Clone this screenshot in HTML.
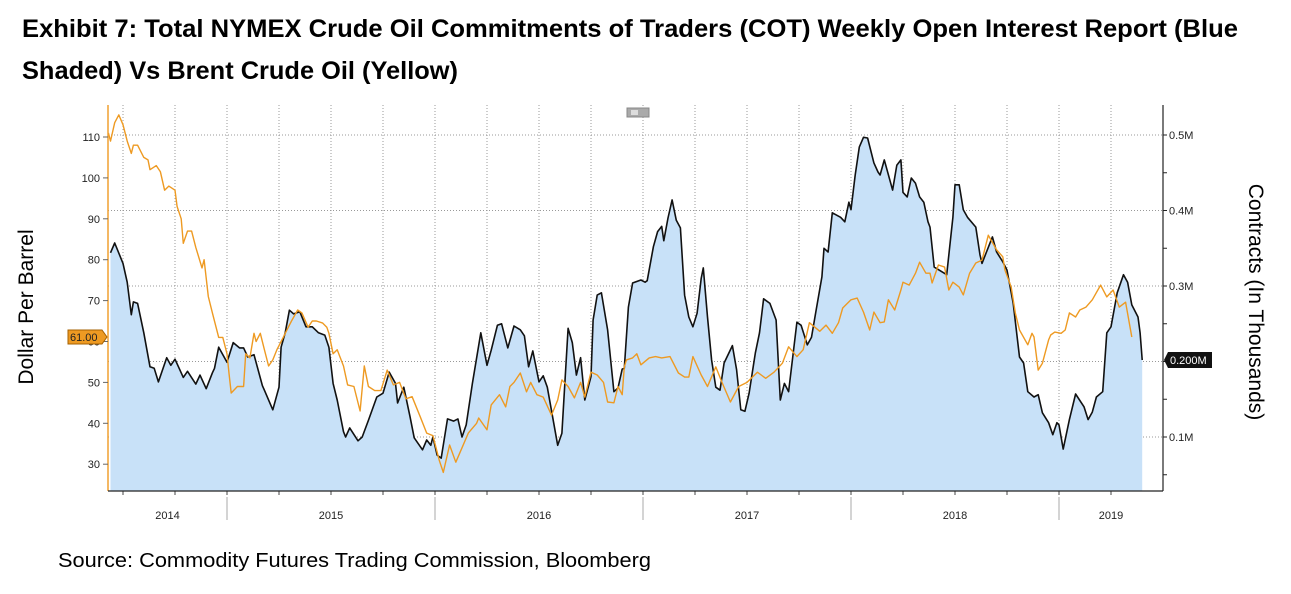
<!DOCTYPE html>
<html><head><meta charset="utf-8"><style>
html,body{margin:0;padding:0;background:#fff;}
svg{display:block;font-family:"Liberation Sans",sans-serif;}
</style></head><body>
<svg id="chart" width="1291" height="594" viewBox="0 0 1291 594" xmlns="http://www.w3.org/2000/svg">
<text x="22" y="37" font-size="25" font-weight="bold" textLength="1216" lengthAdjust="spacingAndGlyphs">Exhibit 7: Total NYMEX Crude Oil Commitments of Traders (COT) Weekly Open Interest Report (Blue</text>
<text x="22" y="79" font-size="25" font-weight="bold" textLength="436" lengthAdjust="spacingAndGlyphs">Shaded) Vs Brent Crude Oil (Yellow)</text>
<text x="58" y="567" font-size="20" textLength="593" lengthAdjust="spacingAndGlyphs">Source: Commodity Futures Trading Commission, Bloomberg</text>
<text transform="translate(33,307) rotate(-90)" text-anchor="middle" font-size="21">Dollar Per Barrel</text>
<text transform="translate(1249,302) rotate(90)" text-anchor="middle" font-size="21">Contracts (In Thousands)</text>
<g id="grid"></g>
<g id="plot"></g>
<g id="axes"></g>
<g><rect x="627" y="108" width="22" height="9" fill="#aaa" stroke="#888"/><rect x="631" y="110" width="7" height="5" fill="#ddd"/></g>
</svg>
<script>
const oiDates=[2014.44,2014.46,2014.50,2014.52,2014.54,2014.55,2014.57,2014.60,2014.63,2014.65,2014.67,2014.71,2014.73,2014.75,2014.79,2014.81,2014.85,2014.87,2014.90,2014.93,2014.94,2014.96,2015.00,2015.03,2015.06,2015.08,2015.10,2015.13,2015.17,2015.18,2015.22,2015.25,2015.26,2015.28,2015.30,2015.32,2015.35,2015.38,2015.41,2015.44,2015.47,2015.49,2015.51,2015.53,2015.56,2015.57,2015.59,2015.63,2015.65,2015.68,2015.72,2015.75,2015.78,2015.81,2015.82,2015.85,2015.88,2015.90,2015.94,2015.96,2015.98,2015.99,2016.01,2016.03,2016.06,2016.09,2016.11,2016.13,2016.15,2016.18,2016.22,2016.25,2016.27,2016.30,2016.32,2016.35,2016.38,2016.41,2016.43,2016.45,2016.47,2016.50,2016.52,2016.54,2016.59,2016.61,2016.64,2016.66,2016.68,2016.70,2016.72,2016.75,2016.76,2016.78,2016.80,2016.83,2016.86,2016.88,2016.90,2016.91,2016.93,2016.95,2016.99,2017.01,2017.02,2017.05,2017.07,2017.09,2017.10,2017.12,2017.14,2017.16,2017.18,2017.20,2017.22,2017.24,2017.26,2017.28,2017.29,2017.31,2017.33,2017.35,2017.37,2017.39,2017.43,2017.45,2017.47,2017.49,2017.51,2017.54,2017.56,2017.58,2017.61,2017.64,2017.66,2017.68,2017.70,2017.74,2017.76,2017.79,2017.81,2017.83,2017.86,2017.87,2017.89,2017.91,2017.95,2017.97,2017.99,2018.00,2018.02,2018.04,2018.06,2018.08,2018.11,2018.13,2018.14,2018.16,2018.20,2018.22,2018.24,2018.25,2018.27,2018.29,2018.31,2018.33,2018.35,2018.37,2018.38,2018.40,2018.46,2018.49,2018.50,2018.52,2018.54,2018.56,2018.60,2018.62,2018.63,2018.68,2018.70,2018.73,2018.75,2018.78,2018.81,2018.83,2018.85,2018.88,2018.90,2018.92,2018.95,2018.97,2018.99,2019.00,2019.02,2019.05,2019.08,2019.12,2019.14,2019.16,2019.18,2019.21,2019.23,2019.25,2019.28,2019.31,2019.33,2019.35,2019.38,2019.39,2019.40];
const oiValues=[0.344,0.357,0.330,0.305,0.262,0.279,0.277,0.238,0.193,0.191,0.173,0.205,0.195,0.203,0.179,0.187,0.170,0.182,0.164,0.185,0.191,0.219,0.199,0.225,0.218,0.218,0.206,0.209,0.168,0.162,0.136,0.166,0.219,0.238,0.268,0.263,0.266,0.246,0.246,0.238,0.235,0.219,0.171,0.149,0.107,0.100,0.112,0.095,0.100,0.122,0.153,0.158,0.186,0.171,0.145,0.166,0.127,0.099,0.083,0.096,0.089,0.100,0.076,0.072,0.124,0.121,0.124,0.100,0.116,0.171,0.238,0.195,0.215,0.248,0.250,0.218,0.247,0.242,0.234,0.193,0.214,0.173,0.181,0.166,0.089,0.105,0.244,0.225,0.182,0.205,0.149,0.180,0.255,0.288,0.291,0.242,0.160,0.165,0.190,0.191,0.272,0.304,0.308,0.305,0.307,0.352,0.372,0.379,0.360,0.390,0.414,0.387,0.377,0.288,0.259,0.246,0.264,0.310,0.324,0.259,0.202,0.166,0.162,0.198,0.221,0.189,0.136,0.134,0.158,0.211,0.238,0.283,0.277,0.255,0.149,0.171,0.160,0.252,0.248,0.222,0.232,0.264,0.312,0.350,0.345,0.397,0.391,0.385,0.411,0.401,0.447,0.484,0.497,0.496,0.463,0.451,0.447,0.467,0.427,0.460,0.467,0.424,0.418,0.443,0.436,0.418,0.411,0.385,0.378,0.325,0.315,0.391,0.434,0.434,0.401,0.391,0.378,0.341,0.330,0.365,0.345,0.332,0.321,0.277,0.206,0.198,0.160,0.153,0.156,0.132,0.119,0.103,0.119,0.116,0.084,0.123,0.157,0.140,0.123,0.133,0.153,0.160,0.238,0.246,0.291,0.315,0.305,0.275,0.259,0.238,0.202];
const brentDates=[2014.43,2014.44,2014.46,2014.48,2014.50,2014.52,2014.54,2014.55,2014.57,2014.60,2014.62,2014.63,2014.66,2014.68,2014.70,2014.72,2014.75,2014.76,2014.78,2014.79,2014.81,2014.83,2014.85,2014.88,2014.89,2014.91,2014.93,2014.96,2014.98,2015.00,2015.01,2015.02,2015.05,2015.08,2015.09,2015.11,2015.13,2015.14,2015.16,2015.18,2015.20,2015.22,2015.24,2015.27,2015.29,2015.31,2015.34,2015.36,2015.39,2015.41,2015.43,2015.46,2015.48,2015.49,2015.51,2015.53,2015.56,2015.58,2015.61,2015.64,2015.66,2015.68,2015.71,2015.74,2015.77,2015.80,2015.83,2015.86,2015.89,2015.93,2015.96,2015.99,2016.02,2016.04,2016.07,2016.10,2016.13,2016.16,2016.20,2016.21,2016.25,2016.27,2016.31,2016.34,2016.36,2016.38,2016.41,2016.44,2016.46,2016.49,2016.52,2016.56,2016.59,2016.61,2016.64,2016.67,2016.70,2016.72,2016.75,2016.78,2016.81,2016.83,2016.86,2016.88,2016.90,2016.91,2016.92,2016.95,2016.97,2016.99,2017.03,2017.06,2017.09,2017.13,2017.17,2017.20,2017.22,2017.24,2017.28,2017.31,2017.35,2017.38,2017.42,2017.46,2017.50,2017.55,2017.59,2017.63,2017.67,2017.70,2017.74,2017.77,2017.80,2017.85,2017.88,2017.91,2017.94,2017.96,2018.00,2018.03,2018.06,2018.09,2018.11,2018.14,2018.16,2018.18,2018.21,2018.24,2018.25,2018.28,2018.31,2018.33,2018.36,2018.38,2018.39,2018.42,2018.45,2018.47,2018.49,2018.52,2018.54,2018.57,2018.60,2018.63,2018.66,2018.70,2018.73,2018.74,2018.77,2018.79,2018.81,2018.85,2018.87,2018.88,2018.90,2018.92,2018.95,2018.96,2018.98,2019.01,2019.03,2019.05,2019.08,2019.10,2019.13,2019.16,2019.20,2019.23,2019.26,2019.29,2019.32,2019.35,2019.38,2019.39,2019.41];
const brentValues=[111,109,113.5,115.4,113,109,106,108,108,105,104.4,102,103,101.5,97,98,97,93,90,84,87,87,83,78,80,71,67,61,61,57,52,47.4,49,49,57,56,62,60,62,58,54,55.5,58,61,63,65,67.7,67,63.5,65,65,64.5,63.5,62,57,58,54,49.4,49,43,54,49,48,48,53,49.4,50,46,46.5,41.5,37.6,37,31,28,34.7,30.5,34,37.6,40,41.3,38.4,44.5,47,44,49,50,52.3,47.7,50,47,46.4,42,45.7,50.6,49,46.2,50,46.4,52.5,51.8,50,45.2,45,49,47,53.8,55.5,56,57,54.3,56,56.3,56,56.3,52.3,51.3,51.3,56.3,51.8,49,53.8,50,45.2,49,50,52.5,51,52.5,54.7,58.7,56.3,58,64.6,62.5,64,62,64.6,68.2,70.2,70.6,67.2,62.8,67.2,64.6,64.8,70.2,67.7,72.6,74.5,73.8,76.7,79.4,76.7,76.7,74.3,78.7,78.2,72.6,74.5,73.3,71.4,76.7,79.2,79.9,86,82.4,80.7,77.5,73.3,67,62.8,59.2,62,61.1,53,54.7,60.4,61.6,62.3,62,62.8,67,66,67.7,68.4,70.2,73.8,70.9,72.6,68.4,69.6,61.1];
const leftTicks=[110,100,90,80,70,60,50,40,30];
const rightTicks=[0.5,0.4,0.3,0.2,0.1];
const rightTickLabels=["0.5M","0.4M","0.3M","0.2M","0.1M"];
const yearLabels=["2014","2015","2016","2017","2018","2019"];
const yearStarts=[2014,2015,2016,2017,2018,2019];
const lastBrentLabel="61.00";
const lastOiLabel="0.200M";

const NS="http://www.w3.org/2000/svg";
const X0=108,X1=1163,YB=491;
function xs(t){return 227+(t-2015)*208;}
function yL(v){return 137+(110-v)*4.09;}
function yR(m){return 135+(0.5-m)*755;}
function mk(tag,attrs,parent){const e=document.createElementNS(NS,tag);for(const k in attrs)e.setAttribute(k,attrs[k]);parent.appendChild(e);return e;}
const grid=document.getElementById('grid'),plot=document.getElementById('plot'),axes=document.getElementById('axes');

rightTicks.forEach(m=>{const l=mk('line',{x1:X0,x2:X1,y1:yR(m),y2:yR(m),stroke:'#999','stroke-width':1,'stroke-dasharray':'1 2'},grid);

});
for(let q=2014.5;q<2019.5;q+=0.25){const x=xs(q);if(x<=X0+2||x>=X1)continue;
const l=mk('line',{x1:x,x2:x,y1:105,y2:YB,stroke:'#999','stroke-width':1,'stroke-dasharray':'1 2'},grid);


mk('line',{x1:x,x2:x,y1:YB,y2:YB+4,stroke:'#444'},axes);}

let pts=oiDates.map((t,i)=>[xs(t),yR(oiValues[i])]);
let dA='M'+pts[0][0]+','+YB+' '+pts.map(p=>'L'+p[0].toFixed(1)+','+p[1].toFixed(1)).join(' ')+' L'+pts[pts.length-1][0]+','+YB+' Z';
const area=mk('path',{d:dA,fill:'#c8e1f8'},plot);


const oiLine=mk('path',{d:'M'+pts.map(p=>p[0].toFixed(1)+','+p[1].toFixed(1)).join(' L'),fill:'none',stroke:'#111','stroke-width':1.6,'stroke-linejoin':'round'},plot);


const bp=brentDates.map((t,i)=>[xs(t),yL(brentValues[i])]);
const bl=mk('path',{d:'M'+bp.map(p=>p[0].toFixed(1)+','+p[1].toFixed(1)).join(' L'),fill:'none',stroke:'#ee9a22','stroke-width':1.4,'stroke-linejoin':'round'},plot);



mk('line',{x1:X0,x2:X0,y1:105,y2:YB,stroke:'#f0a030','stroke-width':1.5},axes);
mk('line',{x1:X1,x2:X1,y1:105,y2:YB,stroke:'#222','stroke-width':1.2},axes);
mk('line',{x1:X0,x2:X1,y1:YB,y2:YB,stroke:'#222','stroke-width':1.2},axes);
leftTicks.forEach(v=>{const y=yL(v);mk('line',{x1:X0-5,x2:X0,y1:y,y2:y,stroke:'#666'},axes);
const t=mk('text',{x:X0-8,y:y+4,'text-anchor':'end','font-size':11,fill:'#222'},axes);t.textContent=v;

});
for(let m=0.05;m<=0.5;m+=0.05){const y=yR(m);mk('line',{x1:X1,x2:X1+4,y1:y,y2:y,stroke:'#222'},axes);}
rightTicks.forEach((m,i)=>{const y=yR(m);
const t=mk('text',{x:X1+6,y:y+4,'font-size':11,fill:'#222'},axes);t.textContent=rightTickLabels[i];

});
yearStarts.forEach((yr,i)=>{const xa=Math.max(X0,xs(yr)),xb=Math.min(X1,xs(yr+1));
if(xs(yr)>X0)mk('line',{x1:xs(yr),x2:xs(yr),y1:YB+6,y2:YB+29,stroke:'#aaa'},axes);
const cx=(i==5)?xs(yr)+52:(xa+xb)/2;
const t=mk('text',{x:cx,y:YB+28,'text-anchor':'middle','font-size':11,fill:'#222'},axes);t.textContent=yearLabels[i];

});
const by=yL(brentValues[brentValues.length-1]);
const tg=mk('path',{d:`M68,${by-7} L102,${by-7} L107,${by} L102,${by+7} L68,${by+7} Z`,fill:'#ee9a22',stroke:'#a56000'},axes);


const bt=mk('text',{x:70,y:by+4,'font-size':11,fill:'#222'},axes);bt.textContent=lastBrentLabel;
const oy=yR(oiValues[oiValues.length-1]);
const tg2=mk('path',{d:`M1164,${oy} L1168,${oy-8} L1212,${oy-8} L1212,${oy+8} L1168,${oy+8} Z`,fill:'#111'},axes);


const ot=mk('text',{x:1170,y:oy+4,'font-size':11,fill:'#fff'},axes);ot.textContent=lastOiLabel;
</script>
</body></html>
